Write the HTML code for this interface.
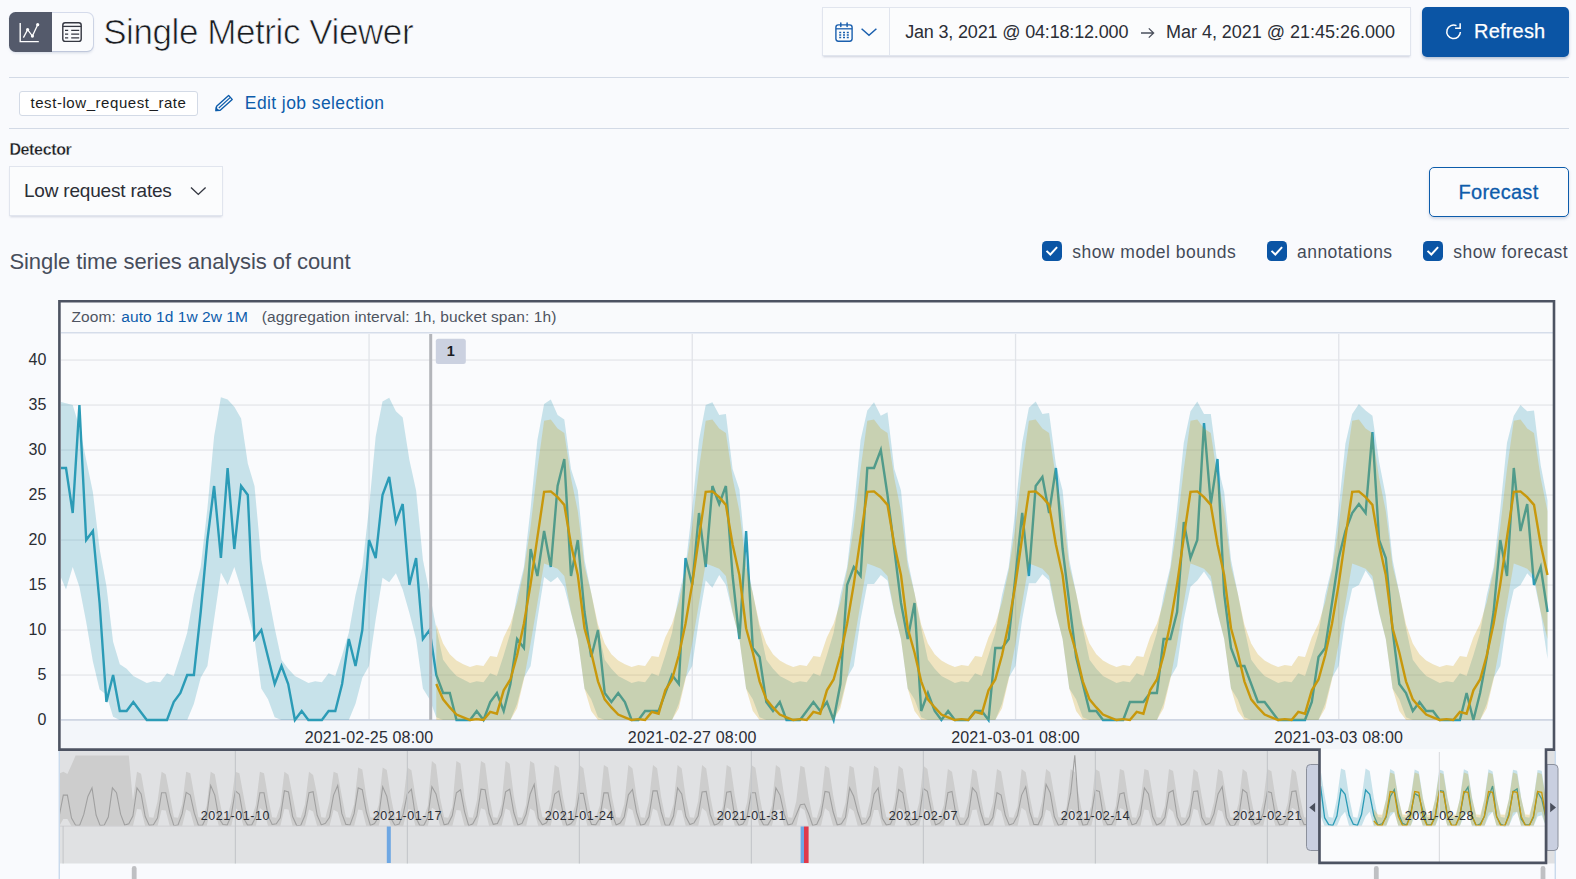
<!DOCTYPE html>
<html lang="en">
<head>
<meta charset="utf-8">
<title>Single Metric Viewer</title>
<style>
html,body{margin:0;padding:0;}
body{width:1576px;height:879px;overflow:hidden;background:#f9fafd;font-family:"Liberation Sans",Arial,sans-serif;color:#1a1c21;position:relative;}
.abs{position:absolute;white-space:nowrap;}
.btngrp{left:9.5px;top:12.6px;width:83px;height:38.8px;border-radius:6px;box-shadow:0 2px 3px rgba(120,135,170,.28),0 0 0 1px rgba(170,185,215,.45);background:#fafbfd;}
.btngrp .on{position:absolute;left:-0.6px;top:-0.6px;width:42.9px;height:40px;background:#545a6b;border-radius:6.5px 0 0 6.5px;}
h1{margin:0;font-weight:400;font-size:35px;line-height:40px;left:103.2px;top:12px;letter-spacing:-0.42px;color:#1a1c21;-webkit-text-stroke:0.7px #f9fafd;}
.datebox{left:821.6px;top:7px;width:589.8px;height:49.3px;background:#fbfcfd;border:1px solid #e1e5ee;box-sizing:border-box;box-shadow:0 2px 2px -1px rgba(150,160,185,.45);}
.datebox .sep{position:absolute;left:66px;top:0;width:1px;height:100%;background:#e1e5ee;}
.dt{font-size:18px;line-height:20px;top:22px;color:#2b2e36;}
.refresh{left:1422px;top:7px;width:147px;height:50px;border-radius:5px;background:#0b55a5;box-shadow:0 2px 3px rgba(40,70,120,.3);}
.refresh span{position:absolute;left:52px;top:12.3px;font-size:20px;line-height:24px;color:#fff;font-weight:400;letter-spacing:0.2px;-webkit-text-stroke:0.25px #fff;}
.hr{left:9px;width:1560px;height:1.3px;background:#d3dae6;}
.badge{left:19px;top:91px;width:179px;height:24.5px;box-sizing:border-box;border:1px solid #d3dae6;border-radius:3px;background:#fff;font-size:15px;line-height:22.5px;text-align:center;letter-spacing:0.56px;color:#1a1c21;}
.link{color:#0d5cab;}
.edit{left:244.8px;top:92px;font-size:17.5px;line-height:22px;letter-spacing:0.41px;}
.lbl{left:9.4px;top:140.2px;font-size:16px;line-height:20px;font-weight:700;letter-spacing:-0.36px;color:#1a1c21;-webkit-text-stroke:0.3px #f9fafd;}
.select{left:9px;top:166px;width:214px;height:49.5px;box-sizing:border-box;background:#fbfcfd;border:1px solid #e1e5ee;box-shadow:0 2px 2px -1px rgba(150,160,185,.4);}
.select span{position:absolute;left:14px;top:12.6px;font-size:19px;line-height:22px;letter-spacing:-0.2px;color:#2b2e36;}
.forecast{left:1429px;top:167px;width:140px;height:50px;box-sizing:border-box;border:1.3px solid #0d5cab;border-radius:5px;background:#fafbfd;box-shadow:0 2px 3px rgba(100,120,160,.25);}
.forecast span{position:absolute;left:28.5px;top:12px;font-size:20px;line-height:24px;letter-spacing:0.27px;-webkit-text-stroke:0.3px #0d5cab;}
h2{margin:0;font-weight:400;font-size:22px;line-height:28px;left:9.4px;top:247.5px;letter-spacing:-0.07px;color:#474d5b;}
.cb{width:19.6px;height:19.6px;top:241.3px;border-radius:4.5px;background:#0b55a5;}
.cbl{top:242px;font-size:17.5px;line-height:21px;color:#444a58;}
svg.chart{position:absolute;left:0;top:0;}
svg.chart text{font-family:"Liberation Sans",Arial,sans-serif;}
.ax{font-size:16px;fill:#2a2d34;letter-spacing:0.1px;}
.xl{letter-spacing:0.15px;}
.ann{font-size:14.5px;fill:#1a1c21;font-weight:700;}
.zt{font-size:15.5px;fill:#4e5461;letter-spacing:0.1px;}
.zl{fill:#0d5cab;letter-spacing:0.05px;}
.zi{letter-spacing:0.1px;}
.cl{font-size:12.5px;fill:#2a2d34;letter-spacing:0.52px;}
</style>
</head>
<body>
<!-- view switch -->
<div class="abs btngrp"><div class="on"></div>
<svg class="abs" style="left:-0.5px;top:-0.6px" width="84" height="40" viewBox="9 12 84 40">
 <path d="M20.2,23 V41.6 H38.8" fill="none" stroke="#fff" stroke-width="1.4"/>
 <path d="M23.4,37.6 L27.6,29.6 L32.4,36.1 L37.7,24.7" fill="none" stroke="#fff" stroke-width="1.3"/>
 <circle cx="27.6" cy="29.6" r="1.6" fill="#fff"/><circle cx="32.4" cy="36.1" r="1.6" fill="#fff"/><circle cx="37.7" cy="24.7" r="1.6" fill="#fff"/>
 <rect x="62.8" y="22.8" width="18.4" height="18.6" rx="2.4" fill="none" stroke="#343741" stroke-width="1.4"/>
 <path d="M62.8,26.4 H81.2" stroke="#343741" stroke-width="1.3"/>
 <path d="M65,30.4h3.2M71.2,30.4h8M65,34.1h3.2M71.2,34.1h8M65,37.8h3.2M71.2,37.8h8" stroke="#343741" stroke-width="1.3"/>
</svg></div>
<h1 class="abs">Single Metric Viewer</h1>

<!-- date picker -->
<div class="abs datebox"><div class="sep"></div></div>
<svg class="abs" style="left:830px;top:18px" width="52" height="28" viewBox="830 18 52 28">
 <rect x="835.9" y="24.9" width="16.2" height="16.3" rx="2.4" fill="none" stroke="#1a5fae" stroke-width="1.4"/>
 <path d="M835.9,28.8H852.1" stroke="#1a5fae" stroke-width="1.3"/>
 <path d="M840.8,23V26.6M847.1,23V26.6" stroke="#1a5fae" stroke-width="1.5" stroke-linecap="round"/>
 <path d="M839.2,32.5h2M843,32.5h2M846.8,32.5h2M839.2,35h2M843,35h2M846.8,35h2M839.2,37.5h2M843,37.5h2M846.8,37.5h2" stroke="#1a5fae" stroke-width="1.3"/>
 <path d="M861.6,28.8 L869,35.3 L876.4,28.8" fill="none" stroke="#1a5fae" stroke-width="1.5"/>
</svg>
<div class="abs dt" style="left:905.2px;letter-spacing:-0.17px">Jan 3, 2021 @ 04:18:12.000</div>
<svg class="abs" style="left:1139px;top:25px" width="18" height="16" viewBox="0 0 18 16"><path d="M2,8H14.5M9.8,3.4L14.6,8L9.8,12.6" fill="none" stroke="#4a4f5c" stroke-width="1.3"/></svg>
<div class="abs dt" style="left:1166px;letter-spacing:-0.02px">Mar 4, 2021 @ 21:45:26.000</div>
<div class="abs refresh">
 <svg class="abs" style="left:22.4px;top:14.6px" width="19.4" height="19.4" viewBox="0 0 18 18"><path d="M15.2,9.3A6.3,6.3 0 1 1 11.6,3.4" fill="none" stroke="#fff" stroke-width="1.4"/><path d="M10.3,5.9H15V1.2" fill="none" stroke="#fff" stroke-width="1.4"/></svg>
 <span>Refresh</span></div>

<div class="abs hr" style="top:76.6px"></div>
<div class="abs badge">test-low_request_rate</div>
<svg class="abs" style="left:213px;top:92px" width="22" height="22" viewBox="213 92 22 22">
 <path d="M216.6,106.2 L228.6,95.4 L232.2,99.4 L220.2,110.2 L216,110.6 Z" fill="none" stroke="#0d5cab" stroke-width="1.4" stroke-linejoin="round"/>
 <path d="M218.8,108 L230.4,97.4" stroke="#0d5cab" stroke-width="1.2"/>
 <path d="M215.6,107 L219.6,110.6 L215.4,111.2 Z" fill="#0d5cab"/>
</svg>
<div class="abs edit link">Edit job selection</div>
<div class="abs hr" style="top:127.6px"></div>

<div class="abs lbl">Detector</div>
<div class="abs select"><span>Low request rates</span>
 <svg class="abs" style="left:176.8px;top:16.4px" width="22" height="16" viewBox="0 0 22 16"><path d="M4,4.6 L11.3,11.4 L18.6,4.6" fill="none" stroke="#343741" stroke-width="1.4"/></svg>
</div>
<div class="abs forecast"><span class="link">Forecast</span></div>

<h2 class="abs">Single time series analysis of count</h2>
<div class="abs cb" style="left:1042px"><svg width="19.6" height="19.6" viewBox="0 0 20 20"><path d="M4.6,10.1 L8.5,13.8 L15.4,6.3" fill="none" stroke="#fff" stroke-width="2"/></svg></div>
<div class="abs cbl" style="left:1072.2px;letter-spacing:0.49px">show model bounds</div>
<div class="abs cb" style="left:1267px"><svg width="19.6" height="19.6" viewBox="0 0 20 20"><path d="M4.6,10.1 L8.5,13.8 L15.4,6.3" fill="none" stroke="#fff" stroke-width="2"/></svg></div>
<div class="abs cbl" style="left:1297px;letter-spacing:0.46px">annotations</div>
<div class="abs cb" style="left:1423px"><svg width="19.6" height="19.6" viewBox="0 0 20 20"><path d="M4.6,10.1 L8.5,13.8 L15.4,6.3" fill="none" stroke="#fff" stroke-width="2"/></svg></div>
<div class="abs cbl" style="left:1453.2px;letter-spacing:0.54px">show forecast</div>

<svg class="chart" width="1576" height="879" viewBox="0 0 1576 879">
<defs><clipPath id="cp"><rect x="61" y="334" width="1492" height="390"/></clipPath><clipPath id="cc"><rect x="60" y="752" width="1495" height="74.5"/></clipPath><clipPath id="cb"><rect x="1321" y="752" width="224.5" height="74.5"/></clipPath></defs>
<rect x="59.5" y="301.5" width="1494.5" height="448" fill="#fafbfd"/>
<rect x="61" y="303" width="1492" height="30" fill="#f9fafc"/>
<rect x="61" y="720" width="1492" height="29" fill="#f3f6fa"/>
<rect x="61" y="332.2" width="1492" height="1.2" fill="#cdd6e5"/>
<rect x="61" y="719.4" width="1492" height="1.3" fill="#e4e6ea"/>
<rect x="61" y="674.4" width="1492" height="1.3" fill="#e4e6ea"/>
<rect x="61" y="629.4" width="1492" height="1.3" fill="#e4e6ea"/>
<rect x="61" y="584.4" width="1492" height="1.3" fill="#e4e6ea"/>
<rect x="61" y="539.4" width="1492" height="1.3" fill="#e4e6ea"/>
<rect x="61" y="494.4" width="1492" height="1.3" fill="#e4e6ea"/>
<rect x="61" y="449.4" width="1492" height="1.3" fill="#e4e6ea"/>
<rect x="61" y="404.4" width="1492" height="1.3" fill="#e4e6ea"/>
<rect x="61" y="359.4" width="1492" height="1.3" fill="#e4e6ea"/>
<rect x="368.4" y="334" width="1.3" height="386" fill="#e1e4e9"/>
<rect x="691.6" y="334" width="1.3" height="386" fill="#e1e4e9"/>
<rect x="1014.9" y="334" width="1.3" height="386" fill="#e1e4e9"/>
<rect x="1338.1" y="334" width="1.3" height="386" fill="#e1e4e9"/>
<rect x="61" y="719.1" width="1492" height="1.5" fill="#cbd3e1"/>
<text x="46.5" y="724.9" text-anchor="end" class="ax">0</text>
<text x="46.5" y="679.9" text-anchor="end" class="ax">5</text>
<text x="46.5" y="634.9" text-anchor="end" class="ax">10</text>
<text x="46.5" y="589.9" text-anchor="end" class="ax">15</text>
<text x="46.5" y="544.9" text-anchor="end" class="ax">20</text>
<text x="46.5" y="499.9" text-anchor="end" class="ax">25</text>
<text x="46.5" y="454.9" text-anchor="end" class="ax">30</text>
<text x="46.5" y="409.9" text-anchor="end" class="ax">35</text>
<text x="46.5" y="364.9" text-anchor="end" class="ax">40</text>
<text x="369" y="742.9" text-anchor="middle" class="ax xl">2021-02-25 08:00</text>
<text x="692.2" y="742.9" text-anchor="middle" class="ax xl">2021-02-27 08:00</text>
<text x="1015.5" y="742.9" text-anchor="middle" class="ax xl">2021-03-01 08:00</text>
<text x="1338.7" y="742.9" text-anchor="middle" class="ax xl">2021-03-03 08:00</text>
<g clip-path="url(#cp)">
<path d="M59.2,401.4L66.0,403.2L72.7,405.0L79.4,427.1L86.2,459.9L92.9,492.3L99.6,549.0L106.4,585.9L113.1,641.7L119.8,664.2L126.6,668.7L133.3,675.9L140.0,679.5L146.8,683.1L153.5,681.3L160.2,682.2L167.0,673.2L173.7,675.9L180.4,655.2L187.2,632.7L193.9,594.9L200.7,567.0L207.4,508.5L214.1,436.5L220.9,397.3L227.6,399.6L234.3,406.8L241.1,418.5L247.8,463.5L254.5,486.0L261.3,559.8L268.0,593.1L274.7,628.2L281.5,659.7L288.2,668.7L294.9,675.9L301.7,679.5L308.4,683.1L315.1,681.3L321.9,682.2L328.6,673.2L335.3,675.9L342.1,655.2L348.8,632.7L355.5,594.9L362.3,567.0L369.0,508.5L375.7,436.5L382.5,401.4L389.2,397.8L395.9,411.3L402.7,417.6L409.4,459.9L416.1,490.5L422.9,559.8L429.6,593.1L436.3,628.2L443.1,659.7L449.8,668.7L456.5,675.9L463.3,679.5L470.0,683.1L476.7,681.3L483.5,682.2L490.2,673.2L496.9,675.9L503.7,655.2L510.4,632.7L517.1,594.9L523.9,567.0L530.6,508.5L537.4,440.1L544.1,404.1L550.8,399.6L557.6,414.9L564.3,419.4L571.0,468.9L577.8,490.5L584.5,559.8L591.2,593.1L598.0,628.2L604.7,659.7L611.4,668.7L618.2,675.9L624.9,679.5L631.6,683.1L638.4,681.3L645.1,682.2L651.8,673.2L658.6,675.9L665.3,655.2L672.0,632.7L678.8,594.9L685.5,567.0L692.2,508.5L699.0,440.1L705.7,405.0L712.4,402.3L719.2,414.9L725.9,414.0L732.6,468.9L739.4,489.6L746.1,559.8L752.8,593.1L759.6,628.2L766.3,659.7L773.0,668.7L779.8,675.9L786.5,679.5L793.2,683.1L800.0,681.3L806.7,682.2L813.4,673.2L820.2,675.9L826.9,655.2L833.6,632.7L840.4,594.9L847.1,567.0L853.8,508.5L860.6,440.1L867.3,410.4L874.0,402.3L880.8,415.8L887.5,412.2L894.3,468.9L901.0,490.5L907.7,559.8L914.5,593.1L921.2,628.2L927.9,659.7L934.7,668.7L941.4,675.9L948.1,679.5L954.9,683.1L961.6,681.3L968.3,682.2L975.1,673.2L981.8,675.9L988.5,655.2L995.3,632.7L1002.0,594.9L1008.7,567.0L1015.5,508.5L1022.2,442.8L1028.9,407.7L1035.7,401.4L1042.4,414.0L1049.1,413.1L1055.9,464.4L1062.6,490.5L1069.3,559.8L1076.1,593.1L1082.8,628.2L1089.5,659.7L1096.3,668.7L1103.0,675.9L1109.7,679.5L1116.5,683.1L1123.2,681.3L1129.9,682.2L1136.7,673.2L1143.4,675.9L1150.1,655.2L1156.9,632.7L1163.6,594.9L1170.3,567.0L1177.1,508.5L1183.8,442.8L1190.5,411.3L1197.3,401.4L1204.0,414.0L1210.8,414.0L1217.5,464.4L1224.2,492.3L1231.0,559.8L1237.7,593.1L1244.4,628.2L1251.2,659.7L1257.9,668.7L1264.6,675.9L1271.4,679.5L1278.1,683.1L1284.8,681.3L1291.6,682.2L1298.3,673.2L1305.0,675.9L1311.8,655.2L1318.5,632.7L1325.2,594.9L1332.0,567.0L1338.7,508.5L1345.4,443.7L1352.2,414.0L1358.9,404.1L1365.6,410.4L1372.4,415.8L1379.1,461.7L1385.8,495.9L1392.6,559.8L1399.3,593.1L1406.0,628.2L1412.8,659.7L1419.5,668.7L1426.2,675.9L1433.0,679.5L1439.7,683.1L1446.4,681.3L1453.2,682.2L1459.9,673.2L1466.6,675.9L1473.4,655.2L1480.1,632.7L1486.8,594.9L1493.6,567.0L1500.3,508.5L1507.0,442.8L1513.8,415.8L1520.5,405.0L1527.2,411.3L1534.0,410.4L1540.7,465.3L1547.5,500.4L1547.5,658.8L1540.7,612.9L1534.0,580.5L1527.2,573.3L1520.5,585.0L1513.8,589.5L1507.0,619.2L1500.3,666.0L1493.6,677.7L1486.8,703.8L1480.1,720.0L1473.4,720.0L1466.6,720.0L1459.9,720.0L1453.2,720.0L1446.4,720.0L1439.7,720.0L1433.0,720.0L1426.2,720.0L1419.5,720.0L1412.8,720.0L1406.0,717.3L1399.3,699.3L1392.6,688.5L1385.8,639.0L1379.1,612.9L1372.4,580.5L1365.6,570.6L1358.9,585.0L1352.2,588.6L1345.4,619.2L1338.7,666.0L1332.0,677.7L1325.2,703.8L1318.5,720.0L1311.8,720.0L1305.0,720.0L1298.3,720.0L1291.6,720.0L1284.8,720.0L1278.1,720.0L1271.4,720.0L1264.6,720.0L1257.9,720.0L1251.2,720.0L1244.4,717.3L1237.7,699.3L1231.0,688.5L1224.2,639.0L1217.5,612.9L1210.8,581.4L1204.0,571.5L1197.3,580.5L1190.5,586.8L1183.8,619.2L1177.1,666.0L1170.3,677.7L1163.6,703.8L1156.9,720.0L1150.1,720.0L1143.4,720.0L1136.7,720.0L1129.9,720.0L1123.2,720.0L1116.5,720.0L1109.7,720.0L1103.0,720.0L1096.3,720.0L1089.5,720.0L1082.8,717.3L1076.1,699.3L1069.3,688.5L1062.6,639.0L1055.9,612.9L1049.1,580.5L1042.4,574.2L1035.7,583.2L1028.9,583.2L1022.2,619.2L1015.5,666.0L1008.7,677.7L1002.0,703.8L995.3,720.0L988.5,720.0L981.8,720.0L975.1,720.0L968.3,720.0L961.6,720.0L954.9,720.0L948.1,720.0L941.4,720.0L934.7,720.0L927.9,720.0L921.2,717.3L914.5,699.3L907.7,688.5L901.0,639.0L894.3,612.9L887.5,580.5L880.8,575.1L874.0,584.1L867.3,584.1L860.6,619.2L853.8,666.0L847.1,677.7L840.4,703.8L833.6,720.0L826.9,720.0L820.2,720.0L813.4,720.0L806.7,720.0L800.0,720.0L793.2,720.0L786.5,720.0L779.8,720.0L773.0,720.0L766.3,720.0L759.6,717.3L752.8,699.3L746.1,688.5L739.4,639.0L732.6,612.9L725.9,585.0L719.2,575.1L712.4,587.7L705.7,580.5L699.0,619.2L692.2,666.0L685.5,677.7L678.8,703.8L672.0,720.0L665.3,720.0L658.6,720.0L651.8,720.0L645.1,720.0L638.4,720.0L631.6,720.0L624.9,720.0L618.2,720.0L611.4,720.0L604.7,720.0L598.0,717.3L591.2,699.3L584.5,688.5L577.8,639.0L571.0,612.9L564.3,586.8L557.6,576.9L550.8,582.3L544.1,576.9L537.4,619.2L530.6,666.0L523.9,677.7L517.1,703.8L510.4,720.0L503.7,720.0L496.9,720.0L490.2,720.0L483.5,720.0L476.7,720.0L470.0,720.0L463.3,720.0L456.5,720.0L449.8,720.0L443.1,720.0L436.3,717.3L429.6,699.3L422.9,688.5L416.1,639.0L409.4,612.9L402.7,589.5L395.9,573.3L389.2,582.3L382.5,577.8L375.7,619.2L369.0,666.0L362.3,677.7L355.5,703.8L348.8,720.0L342.1,720.0L335.3,720.0L328.6,720.0L321.9,720.0L315.1,720.0L308.4,720.0L301.7,720.0L294.9,720.0L288.2,720.0L281.5,720.0L274.7,717.3L268.0,699.3L261.3,688.5L254.5,639.0L247.8,612.9L241.1,588.6L234.3,567.0L227.6,585.0L220.9,572.4L214.1,619.2L207.4,666.0L200.7,677.7L193.9,703.8L187.2,720.0L180.4,720.0L173.7,720.0L167.0,720.0L160.2,720.0L153.5,720.0L146.8,720.0L140.0,720.0L133.3,720.0L126.6,720.0L119.8,720.0L113.1,716.8L106.4,694.8L99.6,689.4L92.9,661.5L86.2,621.9L79.4,586.8L72.7,567.0L66.0,589.5L59.2,573.3Z" fill="#2e97b5" fill-opacity="0.25"/>
<path d="M59.2,468.0L66.0,468.0L72.7,513.0L79.4,405.0L86.2,540.0L92.9,531.0L99.6,603.0L106.4,702.0L113.1,675.0L119.8,711.0L126.6,711.0L133.3,702.0L140.0,711.0L146.8,720.0L153.5,720.0L160.2,720.0L167.0,720.0L173.7,702.0L180.4,693.0L187.2,675.0L193.9,675.0L200.7,612.0L207.4,540.0L214.1,486.0L220.9,558.0L227.6,468.0L234.3,549.0L241.1,486.0L247.8,495.0L254.5,639.0L261.3,630.0L268.0,657.0L274.7,684.0L281.5,666.0L288.2,684.0L294.9,720.0L301.7,711.0L308.4,720.0L315.1,720.0L321.9,720.0L328.6,711.0L335.3,711.0L342.1,684.0L348.8,639.0L355.5,666.0L362.3,630.0L369.0,540.0L375.7,558.0L382.5,495.0L389.2,477.0L395.9,522.0L402.7,504.0L409.4,585.0L416.1,558.0L422.9,639.0L429.6,630.0L436.3,675.0L443.1,693.0L449.8,693.0L456.5,720.0L463.3,720.0L470.0,720.0L476.7,711.0L483.5,720.0L490.2,702.0L496.9,693.0L503.7,711.0L510.4,684.0L517.1,639.0L523.9,648.0L530.6,549.0L537.4,576.0L544.1,531.0L550.8,567.0L557.6,486.0L564.3,459.0L571.0,576.0L577.8,540.0L584.5,612.0L591.2,657.0L598.0,630.0L604.7,693.0L611.4,702.0L618.2,693.0L624.9,702.0L631.6,720.0L638.4,720.0L645.1,711.0L651.8,711.0L658.6,711.0L665.3,693.0L672.0,675.0L678.8,684.0L685.5,558.0L692.2,585.0L699.0,513.0L705.7,567.0L712.4,486.0L719.2,504.0L725.9,486.0L732.6,576.0L739.4,639.0L746.1,531.0L752.8,648.0L759.6,657.0L766.3,702.0L773.0,711.0L779.8,702.0L786.5,720.0L793.2,720.0L800.0,720.0L806.7,711.0L813.4,702.0L820.2,711.0L826.9,702.0L833.6,720.0L840.4,684.0L847.1,585.0L853.8,567.0L860.6,576.0L867.3,468.0L874.0,468.0L880.8,450.0L887.5,495.0L894.3,549.0L901.0,603.0L907.7,639.0L914.5,603.0L921.2,711.0L927.9,693.0L934.7,711.0L941.4,720.0L948.1,711.0L954.9,720.0L961.6,720.0L968.3,720.0L975.1,711.0L981.8,711.0L988.5,720.0L995.3,648.0L1002.0,648.0L1008.7,639.0L1015.5,576.0L1022.2,513.0L1028.9,576.0L1035.7,486.0L1042.4,477.0L1049.1,513.0L1055.9,468.0L1062.6,549.0L1069.3,603.0L1076.1,657.0L1082.8,684.0L1089.5,711.0L1096.3,711.0L1103.0,720.0L1109.7,720.0L1116.5,720.0L1123.2,720.0L1129.9,702.0L1136.7,702.0L1143.4,702.0L1150.1,693.0L1156.9,693.0L1163.6,639.0L1170.3,639.0L1177.1,612.0L1183.8,522.0L1190.5,558.0L1197.3,540.0L1204.0,423.0L1210.8,504.0L1217.5,459.0L1224.2,594.0L1231.0,648.0L1237.7,666.0L1244.4,666.0L1251.2,684.0L1257.9,702.0L1264.6,702.0L1271.4,711.0L1278.1,720.0L1284.8,720.0L1291.6,720.0L1298.3,720.0L1305.0,720.0L1311.8,702.0L1318.5,657.0L1325.2,648.0L1332.0,603.0L1338.7,558.0L1345.4,531.0L1352.2,513.0L1358.9,504.0L1365.6,513.0L1372.4,432.0L1379.1,540.0L1385.8,558.0L1392.6,630.0L1399.3,684.0L1406.0,693.0L1412.8,711.0L1419.5,702.0L1426.2,711.0L1433.0,711.0L1439.7,720.0L1446.4,720.0L1453.2,720.0L1459.9,720.0L1466.6,693.0L1473.4,720.0L1480.1,693.0L1486.8,657.0L1493.6,612.0L1500.3,540.0L1507.0,576.0L1513.8,468.0L1520.5,531.0L1527.2,504.0L1534.0,585.0L1540.7,567.0L1547.5,612.0" fill="none" stroke="#2b9bb6" stroke-width="2.4" stroke-linejoin="miter"/>
<path d="M436.3,624.6L443.1,643.5L449.8,654.3L456.5,660.6L463.3,664.2L470.0,666.9L476.7,665.1L483.5,666.0L490.2,656.1L496.9,657.0L503.7,637.2L510.4,623.7L517.1,602.1L523.9,570.6L530.6,526.5L537.4,468.9L544.1,420.8L550.8,419.4L557.6,428.4L564.3,432.9L571.0,477.9L577.8,511.2L584.5,566.1L591.2,593.1L598.0,624.6L604.7,643.5L611.4,654.3L618.2,660.6L624.9,664.2L631.6,666.9L638.4,665.1L645.1,666.0L651.8,656.1L658.6,657.0L665.3,637.2L672.0,623.7L678.8,602.1L685.5,570.6L692.2,526.5L699.0,468.9L705.7,420.8L712.4,419.4L719.2,428.4L725.9,432.9L732.6,477.9L739.4,511.2L746.1,566.1L752.8,593.1L759.6,624.6L766.3,643.5L773.0,654.3L779.8,660.6L786.5,664.2L793.2,666.9L800.0,665.1L806.7,666.0L813.4,656.1L820.2,657.0L826.9,637.2L833.6,623.7L840.4,602.1L847.1,570.6L853.8,526.5L860.6,468.9L867.3,420.8L874.0,419.4L880.8,428.4L887.5,432.9L894.3,477.9L901.0,511.2L907.7,566.1L914.5,593.1L921.2,624.6L927.9,643.5L934.7,654.3L941.4,660.6L948.1,664.2L954.9,666.9L961.6,665.1L968.3,666.0L975.1,656.1L981.8,657.0L988.5,637.2L995.3,623.7L1002.0,602.1L1008.7,570.6L1015.5,526.5L1022.2,468.9L1028.9,420.8L1035.7,419.4L1042.4,428.4L1049.1,432.9L1055.9,477.9L1062.6,511.2L1069.3,566.1L1076.1,593.1L1082.8,624.6L1089.5,643.5L1096.3,654.3L1103.0,660.6L1109.7,664.2L1116.5,666.9L1123.2,665.1L1129.9,666.0L1136.7,656.1L1143.4,657.0L1150.1,637.2L1156.9,623.7L1163.6,602.1L1170.3,570.6L1177.1,526.5L1183.8,468.9L1190.5,420.8L1197.3,419.4L1204.0,428.4L1210.8,432.9L1217.5,477.9L1224.2,511.2L1231.0,566.1L1237.7,593.1L1244.4,624.6L1251.2,643.5L1257.9,654.3L1264.6,660.6L1271.4,664.2L1278.1,666.9L1284.8,665.1L1291.6,666.0L1298.3,656.1L1305.0,657.0L1311.8,637.2L1318.5,623.7L1325.2,602.1L1332.0,570.6L1338.7,526.5L1345.4,468.9L1352.2,420.8L1358.9,419.4L1365.6,428.4L1372.4,432.9L1379.1,477.9L1385.8,511.2L1392.6,566.1L1399.3,593.1L1406.0,624.6L1412.8,643.5L1419.5,654.3L1426.2,660.6L1433.0,664.2L1439.7,666.9L1446.4,665.1L1453.2,666.0L1459.9,656.1L1466.6,657.0L1473.4,637.2L1480.1,623.7L1486.8,602.1L1493.6,570.6L1500.3,526.5L1507.0,468.9L1513.8,420.8L1520.5,419.4L1527.2,428.4L1534.0,432.9L1540.7,477.9L1547.5,511.2L1547.5,639.0L1540.7,612.0L1534.0,576.0L1527.2,568.8L1520.5,566.1L1513.8,563.4L1507.0,603.0L1500.3,643.5L1493.6,679.5L1486.8,708.3L1480.1,720.0L1473.4,720.0L1466.6,720.0L1459.9,720.0L1453.2,720.0L1446.4,720.0L1439.7,720.0L1433.0,720.0L1426.2,720.0L1419.5,720.0L1412.8,720.0L1406.0,720.0L1399.3,711.0L1392.6,688.5L1385.8,639.0L1379.1,612.0L1372.4,576.0L1365.6,568.8L1358.9,566.1L1352.2,563.4L1345.4,603.0L1338.7,643.5L1332.0,679.5L1325.2,708.3L1318.5,720.0L1311.8,720.0L1305.0,720.0L1298.3,720.0L1291.6,720.0L1284.8,720.0L1278.1,720.0L1271.4,720.0L1264.6,720.0L1257.9,720.0L1251.2,720.0L1244.4,720.0L1237.7,711.0L1231.0,688.5L1224.2,639.0L1217.5,612.0L1210.8,576.0L1204.0,568.8L1197.3,566.1L1190.5,563.4L1183.8,603.0L1177.1,643.5L1170.3,679.5L1163.6,708.3L1156.9,720.0L1150.1,720.0L1143.4,720.0L1136.7,720.0L1129.9,720.0L1123.2,720.0L1116.5,720.0L1109.7,720.0L1103.0,720.0L1096.3,720.0L1089.5,720.0L1082.8,720.0L1076.1,711.0L1069.3,688.5L1062.6,639.0L1055.9,612.0L1049.1,576.0L1042.4,568.8L1035.7,566.1L1028.9,563.4L1022.2,603.0L1015.5,643.5L1008.7,679.5L1002.0,708.3L995.3,720.0L988.5,720.0L981.8,720.0L975.1,720.0L968.3,720.0L961.6,720.0L954.9,720.0L948.1,720.0L941.4,720.0L934.7,720.0L927.9,720.0L921.2,720.0L914.5,711.0L907.7,688.5L901.0,639.0L894.3,612.0L887.5,576.0L880.8,568.8L874.0,566.1L867.3,563.4L860.6,603.0L853.8,643.5L847.1,679.5L840.4,708.3L833.6,720.0L826.9,720.0L820.2,720.0L813.4,720.0L806.7,720.0L800.0,720.0L793.2,720.0L786.5,720.0L779.8,720.0L773.0,720.0L766.3,720.0L759.6,720.0L752.8,711.0L746.1,688.5L739.4,639.0L732.6,612.0L725.9,576.0L719.2,568.8L712.4,566.1L705.7,563.4L699.0,603.0L692.2,643.5L685.5,679.5L678.8,708.3L672.0,720.0L665.3,720.0L658.6,720.0L651.8,720.0L645.1,720.0L638.4,720.0L631.6,720.0L624.9,720.0L618.2,720.0L611.4,720.0L604.7,720.0L598.0,720.0L591.2,711.0L584.5,688.5L577.8,639.0L571.0,612.0L564.3,576.0L557.6,568.8L550.8,566.1L544.1,563.4L537.4,603.0L530.6,643.5L523.9,679.5L517.1,708.3L510.4,720.0L503.7,720.0L496.9,720.0L490.2,720.0L483.5,720.0L476.7,720.0L470.0,720.0L463.3,720.0L456.5,720.0L449.8,720.0L443.1,720.0L436.3,720.0Z" fill="#cc9900" fill-opacity="0.24"/>
<path d="M436.3,684.0L443.1,699.3L449.8,707.4L456.5,714.6L463.3,717.3L470.0,720.0L476.7,719.1L483.5,720.0L490.2,711.9L496.9,713.7L503.7,690.3L510.4,679.5L517.1,655.2L523.9,623.7L530.6,584.1L537.4,537.3L544.1,491.9L550.8,491.4L557.6,497.2L564.3,504.9L571.0,544.5L577.8,575.1L584.5,628.2L591.2,652.5L598.0,681.3L604.7,699.3L611.4,707.4L618.2,714.6L624.9,717.3L631.6,720.0L638.4,719.1L645.1,720.0L651.8,711.9L658.6,713.7L665.3,690.3L672.0,679.5L678.8,655.2L685.5,623.7L692.2,584.1L699.0,537.3L705.7,491.9L712.4,491.4L719.2,497.2L725.9,504.9L732.6,544.5L739.4,575.1L746.1,628.2L752.8,652.5L759.6,681.3L766.3,699.3L773.0,707.4L779.8,714.6L786.5,717.3L793.2,720.0L800.0,719.1L806.7,720.0L813.4,711.9L820.2,713.7L826.9,690.3L833.6,679.5L840.4,655.2L847.1,623.7L853.8,584.1L860.6,537.3L867.3,491.9L874.0,491.4L880.8,497.2L887.5,504.9L894.3,544.5L901.0,575.1L907.7,628.2L914.5,652.5L921.2,681.3L927.9,699.3L934.7,707.4L941.4,714.6L948.1,717.3L954.9,720.0L961.6,719.1L968.3,720.0L975.1,711.9L981.8,713.7L988.5,690.3L995.3,679.5L1002.0,655.2L1008.7,623.7L1015.5,584.1L1022.2,537.3L1028.9,491.9L1035.7,491.4L1042.4,497.2L1049.1,504.9L1055.9,544.5L1062.6,575.1L1069.3,628.2L1076.1,652.5L1082.8,681.3L1089.5,699.3L1096.3,707.4L1103.0,714.6L1109.7,717.3L1116.5,720.0L1123.2,719.1L1129.9,720.0L1136.7,711.9L1143.4,713.7L1150.1,690.3L1156.9,679.5L1163.6,655.2L1170.3,623.7L1177.1,584.1L1183.8,537.3L1190.5,491.9L1197.3,491.4L1204.0,497.2L1210.8,504.9L1217.5,544.5L1224.2,575.1L1231.0,628.2L1237.7,652.5L1244.4,681.3L1251.2,699.3L1257.9,707.4L1264.6,714.6L1271.4,717.3L1278.1,720.0L1284.8,719.1L1291.6,720.0L1298.3,711.9L1305.0,713.7L1311.8,690.3L1318.5,679.5L1325.2,655.2L1332.0,623.7L1338.7,584.1L1345.4,537.3L1352.2,491.9L1358.9,491.4L1365.6,497.2L1372.4,504.9L1379.1,544.5L1385.8,575.1L1392.6,628.2L1399.3,652.5L1406.0,681.3L1412.8,699.3L1419.5,707.4L1426.2,714.6L1433.0,717.3L1439.7,720.0L1446.4,719.1L1453.2,720.0L1459.9,711.9L1466.6,713.7L1473.4,690.3L1480.1,679.5L1486.8,655.2L1493.6,623.7L1500.3,584.1L1507.0,537.3L1513.8,491.9L1520.5,491.4L1527.2,497.2L1534.0,504.9L1540.7,544.5L1547.5,575.1" fill="none" stroke="#c8980c" stroke-width="2.4" stroke-linejoin="miter"/>
</g>
<rect x="429.2" y="334" width="3" height="386" fill="#b3b5ba"/>
<rect x="435.8" y="338.8" width="30" height="25.2" rx="2.5" fill="#cbd1e0"/>
<text x="450.8" y="356.4" text-anchor="middle" class="ann">1</text>
<text x="71.5" y="322.4" class="zt">Zoom:</text>
<text x="121.3" y="322.4" class="zt zl">auto 1d 1w 2w 1M</text>
<text x="261.8" y="322.4" class="zt zi">(aggregation interval: 1h, bucket span: 1h)</text>
<rect x="60" y="751" width="1495" height="112.5" fill="#e0e1e3"/>
<g clip-path="url(#cc)">
<path d="M59.2,773.6L63.3,771.8L67.4,773.9L71.5,765.0L75.6,755.4L79.7,755.4L83.8,755.4L87.9,755.4L92.0,755.4L96.1,755.4L100.2,755.4L104.3,755.4L108.3,755.4L112.4,755.4L116.5,755.4L120.6,755.4L124.7,755.4L128.8,755.4L132.9,800.5L137.0,771.8L141.1,773.7L145.2,796.7L149.3,817.2L153.4,817.8L157.5,801.4L161.6,771.8L165.7,774.3L169.8,794.9L173.9,817.2L178.0,817.8L182.1,804.3L186.2,771.8L190.3,773.3L194.3,795.6L198.4,817.2L202.5,817.8L206.6,806.1L210.7,771.8L214.8,774.3L218.9,797.4L223.0,817.2L227.1,817.8L231.2,802.2L235.3,771.8L239.4,773.3L243.5,795.4L247.6,817.2L251.7,817.8L255.8,804.9L259.9,771.8L264.0,773.3L268.1,797.3L272.2,817.2L276.3,817.8L280.3,805.2L284.4,771.8L288.5,774.7L292.6,796.1L296.7,817.2L300.8,817.8L304.9,804.5L309.0,771.8L313.1,774.9L317.2,795.1L321.3,817.2L325.4,817.8L329.5,801.6L333.6,771.8L337.7,773.5L341.8,796.1L345.9,817.2L350.0,817.8L354.1,804.2L358.2,767.4L362.3,769.5L366.3,796.1L370.4,817.2L374.5,817.8L378.6,805.0L382.7,767.4L386.8,769.9L390.9,797.1L395.0,817.2L399.1,817.8L403.2,801.0L407.3,767.4L411.4,770.3L415.5,796.2L419.6,817.2L423.7,817.8L427.8,806.0L431.9,761.0L436.0,764.6L440.1,797.9L444.2,817.2L448.2,817.8L452.3,806.8L456.4,761.0L460.5,763.5L464.6,797.0L468.7,817.2L472.8,817.8L476.9,800.4L481.0,761.0L485.1,763.4L489.2,795.1L493.3,817.2L497.4,817.8L501.5,804.6L505.6,761.0L509.7,763.8L513.8,796.0L517.9,817.2L522.0,817.8L526.1,804.4L530.2,761.0L534.2,763.5L538.3,796.8L542.4,817.2L546.5,817.8L550.6,802.1L554.7,765.0L558.8,767.6L562.9,796.5L567.0,817.2L571.1,817.8L575.2,805.4L579.3,765.0L583.4,768.2L587.5,795.8L591.6,817.2L595.7,817.8L599.8,805.6L603.9,765.0L608.0,767.5L612.1,797.4L616.2,817.2L620.2,817.8L624.3,804.1L628.4,765.0L632.5,768.5L636.6,796.4L640.7,817.2L644.8,817.8L648.9,801.5L653.0,765.0L657.1,768.2L661.2,797.3L665.3,817.2L669.4,817.8L673.5,804.2L677.6,765.0L681.7,768.6L685.8,797.9L689.9,817.2L694.0,817.8L698.1,801.3L702.1,765.0L706.2,768.5L710.3,796.6L714.4,817.2L718.5,817.8L722.6,806.7L726.7,765.0L730.8,767.5L734.9,795.9L739.0,817.2L743.1,817.8L747.2,801.7L751.3,765.0L755.4,767.8L759.5,795.7L763.6,817.2L767.7,817.8L771.8,805.7L775.9,765.0L780.0,768.0L784.1,795.5L788.1,817.2L792.2,817.8L796.3,801.0L800.4,765.7L804.5,767.6L808.6,796.8L812.7,817.2L816.8,817.8L820.9,803.2L825.0,765.7L829.1,768.0L833.2,795.4L837.3,817.2L841.4,817.8L845.5,802.7L849.6,765.7L853.7,767.8L857.8,797.0L861.9,817.2L866.0,817.8L870.1,801.0L874.1,765.7L878.2,768.4L882.3,797.9L886.4,817.2L890.5,817.8L894.6,801.7L898.7,765.7L902.8,769.1L906.9,796.4L911.0,817.2L915.1,817.8L919.2,802.2L923.3,765.7L927.4,768.9L931.5,796.3L935.6,817.2L939.7,817.8L943.8,805.0L947.9,768.9L952.0,771.7L956.0,795.3L960.1,817.2L964.2,817.8L968.3,801.1L972.4,768.9L976.5,771.4L980.6,796.4L984.7,817.2L988.8,817.8L992.9,803.0L997.0,768.9L1001.1,771.5L1005.2,795.8L1009.3,817.2L1013.4,817.8L1017.5,806.5L1021.6,768.9L1025.7,772.2L1029.8,796.6L1033.9,817.2L1038.0,817.8L1042.0,801.6L1046.1,768.9L1050.2,772.2L1054.3,795.5L1058.4,817.2L1062.5,817.8L1066.6,806.7L1070.7,768.9L1074.8,772.2L1078.9,795.7L1083.0,817.2L1087.1,817.8L1091.2,806.1L1095.3,768.9L1099.4,771.6L1103.5,796.3L1107.6,817.2L1111.7,817.8L1115.8,805.9L1119.9,768.9L1124.0,770.8L1128.0,797.3L1132.1,817.2L1136.2,817.8L1140.3,802.1L1144.4,768.9L1148.5,770.5L1152.6,795.2L1156.7,817.2L1160.8,817.8L1164.9,806.0L1169.0,768.9L1173.1,770.9L1177.2,797.6L1181.3,817.2L1185.4,817.8L1189.5,804.3L1193.6,768.9L1197.7,772.2L1201.8,796.4L1205.9,817.2L1209.9,817.8L1214.0,802.0L1218.1,768.9L1222.2,771.4L1226.3,796.4L1230.4,817.2L1234.5,817.8L1238.6,803.2L1242.7,768.9L1246.8,772.2L1250.9,797.8L1255.0,817.2L1259.1,817.8L1263.2,800.8L1267.3,768.9L1271.4,771.3L1275.5,798.0L1279.6,817.2L1283.7,817.8L1287.8,802.4L1291.9,768.9L1295.9,772.1L1300.0,796.4L1304.1,817.2L1308.2,817.8L1312.3,806.8L1316.4,768.9L1320.5,771.3L1324.6,796.4L1328.7,817.2L1332.8,817.8L1336.9,800.6L1341.0,768.9L1345.1,771.6L1349.2,795.1L1353.3,817.2L1357.4,817.8L1361.5,801.2L1365.6,768.9L1369.7,771.8L1373.8,796.5L1377.9,817.2L1381.9,817.8L1386.0,806.8L1390.1,768.9L1394.2,771.8L1398.3,795.9L1402.4,817.2L1406.5,817.8L1410.6,803.2L1414.7,768.9L1418.8,770.5L1422.9,798.0L1427.0,817.2L1431.1,817.8L1435.2,802.9L1439.3,768.9L1443.4,772.2L1447.5,797.2L1451.6,817.2L1455.7,817.8L1459.8,801.0L1463.9,768.9L1467.9,770.9L1472.0,797.8L1476.1,817.2L1480.2,817.8L1484.3,803.0L1488.4,768.9L1492.5,771.5L1496.6,796.1L1500.7,817.2L1504.8,817.8L1508.9,806.5L1513.0,768.9L1517.1,771.2L1521.2,796.2L1525.3,817.2L1529.4,817.8L1533.5,805.1L1537.6,768.9L1541.7,771.0L1545.8,796.8L1549.8,817.2L1553.9,817.8L1558.0,801.1L1558.0,826.2L1553.9,826.2L1549.8,826.2L1545.8,826.2L1541.7,811.9L1537.6,808.2L1533.5,826.2L1529.4,826.2L1525.3,826.2L1521.2,826.2L1517.1,811.3L1513.0,808.3L1508.9,826.2L1504.8,826.2L1500.7,826.2L1496.6,826.2L1492.5,810.9L1488.4,807.7L1484.3,826.2L1480.2,826.2L1476.1,826.2L1472.0,826.2L1467.9,811.9L1463.9,808.1L1459.8,826.2L1455.7,826.2L1451.6,826.2L1447.5,826.2L1443.4,810.7L1439.3,808.7L1435.2,826.2L1431.1,826.2L1427.0,826.2L1422.9,826.2L1418.8,811.4L1414.7,808.2L1410.6,826.2L1406.5,826.2L1402.4,826.2L1398.3,826.2L1394.2,811.0L1390.1,808.7L1386.0,826.2L1381.9,826.2L1377.9,826.2L1373.8,826.2L1369.7,810.4L1365.6,809.2L1361.5,826.2L1357.4,826.2L1353.3,826.2L1349.2,826.2L1345.1,810.1L1341.0,808.3L1336.9,826.2L1332.8,826.2L1328.7,826.2L1324.6,826.2L1320.5,811.4L1316.4,808.0L1312.3,826.2L1308.2,826.2L1304.1,826.2L1300.0,826.2L1295.9,810.0L1291.9,807.8L1287.8,826.2L1283.7,826.2L1279.6,826.2L1275.5,826.2L1271.4,811.6L1267.3,807.9L1263.2,826.2L1259.1,826.2L1255.0,826.2L1250.9,826.2L1246.8,810.1L1242.7,808.9L1238.6,826.2L1234.5,826.2L1230.4,826.2L1226.3,826.2L1222.2,811.6L1218.1,809.7L1214.0,826.2L1209.9,826.2L1205.9,826.2L1201.8,826.2L1197.7,810.3L1193.6,808.8L1189.5,826.2L1185.4,826.2L1181.3,826.2L1177.2,826.2L1173.1,812.0L1169.0,808.3L1164.9,826.2L1160.8,826.2L1156.7,826.2L1152.6,826.2L1148.5,810.2L1144.4,809.5L1140.3,826.2L1136.2,826.2L1132.1,826.2L1128.0,826.2L1124.0,809.7L1119.9,808.0L1115.8,826.2L1111.7,826.2L1107.6,826.2L1103.5,826.2L1099.4,810.4L1095.3,809.6L1091.2,826.2L1087.1,826.2L1083.0,826.2L1078.9,826.2L1074.8,811.4L1070.7,808.8L1066.6,826.2L1062.5,826.2L1058.4,826.2L1054.3,826.2L1050.2,811.4L1046.1,809.6L1042.0,826.2L1038.0,826.2L1033.9,826.2L1029.8,826.2L1025.7,810.8L1021.6,807.8L1017.5,826.2L1013.4,826.2L1009.3,826.2L1005.2,826.2L1001.1,811.0L997.0,808.7L992.9,826.2L988.8,826.2L984.7,826.2L980.6,826.2L976.5,809.5L972.4,810.0L968.3,826.2L964.2,826.2L960.1,826.2L956.0,826.2L952.0,809.8L947.9,809.6L943.8,826.2L939.7,826.2L935.6,826.2L931.5,826.2L927.4,810.4L923.3,808.2L919.2,826.2L915.1,826.2L911.0,826.2L906.9,826.2L902.8,810.3L898.7,807.9L894.6,826.2L890.5,826.2L886.4,826.2L882.3,826.2L878.2,810.0L874.1,809.9L870.1,826.2L866.0,826.2L861.9,826.2L857.8,826.2L853.7,811.1L849.6,807.9L845.5,826.2L841.4,826.2L837.3,826.2L833.2,826.2L829.1,811.5L825.0,808.3L820.9,826.2L816.8,826.2L812.7,826.2L808.6,826.2L804.5,810.0L800.4,807.8L796.3,826.2L792.2,826.2L788.1,826.2L784.1,826.2L780.0,809.6L775.9,809.9L771.8,826.2L767.7,826.2L763.6,826.2L759.5,826.2L755.4,811.1L751.3,809.4L747.2,826.2L743.1,826.2L739.0,826.2L734.9,826.2L730.8,810.3L726.7,807.6L722.6,826.2L718.5,826.2L714.4,826.2L710.3,826.2L706.2,811.4L702.1,808.0L698.1,826.2L694.0,826.2L689.9,826.2L685.8,826.2L681.7,810.2L677.6,810.0L673.5,826.2L669.4,826.2L665.3,826.2L661.2,826.2L657.1,810.8L653.0,808.5L648.9,826.2L644.8,826.2L640.7,826.2L636.6,826.2L632.5,810.2L628.4,807.9L624.3,826.2L620.2,826.2L616.2,826.2L612.1,826.2L608.0,809.7L603.9,808.0L599.8,826.2L595.7,826.2L591.6,826.2L587.5,826.2L583.4,809.7L579.3,809.7L575.2,826.2L571.1,826.2L567.0,826.2L562.9,826.2L558.8,810.8L554.7,808.3L550.6,826.2L546.5,826.2L542.4,826.2L538.3,826.2L534.2,810.9L530.2,808.6L526.1,826.2L522.0,826.2L517.9,826.2L513.8,826.2L509.7,810.5L505.6,808.6L501.5,826.2L497.4,826.2L493.3,826.2L489.2,826.2L485.1,809.7L481.0,808.3L476.9,826.2L472.8,826.2L468.7,826.2L464.6,826.2L460.5,810.6L456.4,809.9L452.3,826.2L448.2,826.2L444.2,826.2L440.1,826.2L436.0,810.2L431.9,807.8L427.8,826.2L423.7,826.2L419.6,826.2L415.5,826.2L411.4,809.7L407.3,809.2L403.2,826.2L399.1,826.2L395.0,826.2L390.9,826.2L386.8,812.0L382.7,809.6L378.6,826.2L374.5,826.2L370.4,826.2L366.3,826.2L362.3,810.2L358.2,809.6L354.1,826.2L350.0,826.2L345.9,826.2L341.8,826.2L337.7,811.9L333.6,809.8L329.5,826.2L325.4,826.2L321.3,826.2L317.2,826.2L313.1,811.5L309.0,809.5L304.9,826.2L300.8,826.2L296.7,826.2L292.6,826.2L288.5,809.6L284.4,808.9L280.3,826.2L276.3,826.2L272.2,826.2L268.1,826.2L264.0,811.2L259.9,808.1L255.8,826.2L251.7,826.2L247.6,826.2L243.5,826.2L239.4,811.5L235.3,807.8L231.2,826.2L227.1,826.2L223.0,826.2L218.9,826.2L214.8,810.4L210.7,809.8L206.6,826.2L202.5,826.2L198.4,826.2L194.3,826.2L190.3,811.8L186.2,809.5L182.1,826.2L178.0,826.2L173.9,826.2L169.8,826.2L165.7,810.4L161.6,809.9L157.5,826.2L153.4,826.2L149.3,826.2L145.2,826.2L141.1,809.6L137.0,809.1L132.9,826.2L128.8,826.2L124.7,826.2L120.6,826.2L116.5,826.2L112.4,826.2L108.3,826.2L104.3,826.2L100.2,826.2L96.1,826.2L92.0,826.2L87.9,826.2L83.8,826.2L79.7,826.2L75.6,826.2L71.5,826.2L67.4,819.0L63.3,819.0L59.2,826.2Z" fill="#cdcdcd"/>
<path d="M59.2,816.1L63.3,795.1L67.4,795.1L71.5,818.1L75.6,825.3L79.7,825.3L83.8,814.4L87.9,796.4L92.0,787.9L96.1,815.0L100.2,825.6L104.3,825.0L108.3,817.1L112.4,787.9L116.5,792.7L120.6,814.2L124.7,825.0L128.8,823.7L132.9,816.1L137.0,787.9L141.1,794.0L145.2,816.5L149.3,825.4L153.4,824.8L157.5,818.0L161.6,792.7L165.7,792.7L169.8,812.7L173.9,825.7L178.0,825.0L182.1,813.9L186.2,792.4L190.3,795.1L194.3,813.2L198.4,825.3L202.5,825.3L206.6,816.7L210.7,785.5L214.8,795.1L218.9,818.4L223.0,824.6L227.1,825.1L231.2,815.6L235.3,790.9L239.4,794.3L243.5,817.9L247.6,825.1L251.7,825.0L255.8,817.0L259.9,792.7L264.0,792.7L268.1,815.9L272.2,824.5L276.3,823.8L280.3,817.8L284.4,790.8L288.5,791.9L292.6,816.6L296.7,825.6L300.8,825.3L304.9,815.5L309.0,792.7L313.1,791.6L317.2,815.3L321.3,824.9L325.4,823.2L329.5,817.4L333.6,795.1L337.7,785.5L341.8,813.4L345.9,824.4L350.0,825.0L354.1,813.7L358.2,787.9L362.3,789.7L366.3,811.8L370.4,825.4L374.5,823.6L378.6,817.1L382.7,786.8L386.8,796.4L390.9,818.3L395.0,825.4L399.1,824.0L403.2,814.2L407.3,794.0L411.4,789.2L415.5,816.8L419.6,825.1L423.7,825.4L427.8,817.5L431.9,786.8L436.0,794.0L440.1,811.7L444.2,824.8L448.2,823.7L452.3,815.5L456.4,792.7L460.5,789.8L464.6,811.8L468.7,825.7L472.8,823.8L476.9,816.0L481.0,789.2L485.1,789.7L489.2,813.5L493.3,824.4L497.4,823.5L501.5,814.9L505.6,791.9L509.7,789.2L513.8,812.5L517.9,825.1L522.0,823.4L526.1,814.1L530.2,794.0L534.2,784.3L538.3,818.2L542.4,824.8L546.5,822.8L550.6,814.1L554.7,794.0L558.8,790.9L562.9,812.7L567.0,825.6L571.1,823.5L575.2,818.2L579.3,793.4L583.4,793.4L587.5,814.3L591.6,824.4L595.7,824.9L599.8,818.3L603.9,792.9L608.0,792.7L612.1,814.0L616.2,825.1L620.2,823.1L624.3,816.7L628.4,794.8L632.5,789.5L636.6,812.4L640.7,825.2L644.8,824.0L648.9,816.8L653.0,790.9L657.1,790.9L661.2,811.9L665.3,825.3L669.4,825.1L673.5,816.1L677.6,787.9L681.7,794.0L685.8,816.5L689.9,824.5L694.0,822.9L698.1,816.1L702.1,791.9L706.2,791.4L710.3,814.7L714.4,825.3L718.5,823.4L722.6,818.2L726.7,792.2L730.8,791.4L734.9,817.8L739.0,825.6L743.1,823.8L747.2,816.2L751.3,792.7L755.4,792.7L759.5,817.3L763.6,825.0L767.7,825.1L771.8,818.3L775.9,787.9L780.0,795.1L784.1,813.7L788.1,825.0L792.2,823.9L796.3,814.7L800.4,804.8L804.5,804.0L808.6,813.6L812.7,825.5L816.8,824.3L820.9,815.3L825.0,791.4L829.1,792.2L833.2,812.0L837.3,825.0L841.4,823.8L845.5,817.3L849.6,787.9L853.7,796.3L857.8,812.3L861.9,824.3L866.0,822.9L870.1,815.7L874.1,794.0L878.2,787.9L882.3,818.2L886.4,825.1L890.5,824.0L894.6,814.6L898.7,789.5L902.8,792.7L906.9,817.5L911.0,825.2L915.1,823.4L919.2,817.6L923.3,788.5L927.4,791.4L931.5,811.9L935.6,825.0L939.7,823.0L943.8,817.9L947.9,792.7L952.0,791.4L956.0,815.0L960.1,824.5L964.2,824.0L968.3,816.8L972.4,787.9L976.5,792.7L980.6,811.8L984.7,825.0L988.8,824.0L992.9,817.3L997.0,792.7L1001.1,795.1L1005.2,815.1L1009.3,825.1L1013.4,823.4L1017.5,815.6L1021.6,795.1L1025.7,786.8L1029.8,811.9L1033.9,824.4L1038.0,824.8L1042.0,816.0L1046.1,784.3L1050.2,792.7L1054.3,816.5L1058.4,825.4L1062.5,823.9L1066.6,813.8L1070.7,793.2L1074.8,755.4L1078.9,813.8L1083.0,825.3L1087.1,824.6L1091.2,815.3L1095.3,790.3L1099.4,791.4L1103.5,817.4L1107.6,824.9L1111.7,824.4L1115.8,816.5L1119.9,794.0L1124.0,792.7L1128.0,814.2L1132.1,824.9L1136.2,823.2L1140.3,815.4L1144.4,787.9L1148.5,794.0L1152.6,816.5L1156.7,825.3L1160.8,823.0L1164.9,817.3L1169.0,792.7L1173.1,790.3L1177.2,816.9L1181.3,825.6L1185.4,823.3L1189.5,816.3L1193.6,791.4L1197.7,790.9L1201.8,817.3L1205.9,824.7L1209.9,823.1L1214.0,813.6L1218.1,794.0L1222.2,786.8L1226.3,817.4L1230.4,825.6L1234.5,825.3L1238.6,818.1L1242.7,789.5L1246.8,792.7L1250.9,817.3L1255.0,824.5L1259.1,822.8L1263.2,813.8L1267.3,791.4L1271.4,792.7L1275.5,816.4L1279.6,825.0L1283.7,824.1L1287.8,816.2L1291.9,791.4L1295.9,790.9L1300.0,815.5L1304.1,824.6L1308.2,824.4L1312.3,817.4L1316.4,791.6L1320.5,792.2L1324.6,813.7L1328.7,824.5L1332.8,823.8L1336.9,816.4L1341.0,791.6L1345.1,792.2L1349.2,812.2L1353.3,824.6L1357.4,823.4L1361.5,814.4L1365.6,791.6L1369.7,792.2L1373.8,813.2L1377.9,825.1L1381.9,823.6L1386.0,818.0L1390.1,791.6L1394.2,792.2L1398.3,814.3L1402.4,825.4L1406.5,823.0L1410.6,815.1L1414.7,791.6L1418.8,792.2L1422.9,811.5L1427.0,824.8L1431.1,823.6L1435.2,814.6L1439.3,791.6L1443.4,792.2L1447.5,815.9L1451.6,825.6L1455.7,825.0L1459.8,816.5L1463.9,791.6L1467.9,792.2L1472.0,811.8L1476.1,824.9L1480.2,822.8L1484.3,815.2L1488.4,791.6L1492.5,792.2L1496.6,812.1L1500.7,825.5L1504.8,824.3L1508.9,817.5L1513.0,791.6L1517.1,792.2L1521.2,815.0L1525.3,824.9L1529.4,824.6L1533.5,816.9L1537.6,791.6L1541.7,792.2L1545.8,818.7L1549.8,825.4L1553.9,825.4L1558.0,817.6" fill="none" stroke="#a0a0a0" stroke-width="1.1"/>
</g>
<rect x="60" y="825.6" width="1495" height="1" fill="#cfd0d2"/>
<rect x="234.8" y="751" width="1.1" height="112.5" fill="#c4c6c9"/>
<text x="235.3" y="819.8" text-anchor="middle" class="cl">2021-01-10</text>
<rect x="406.8" y="751" width="1.1" height="112.5" fill="#c4c6c9"/>
<text x="407.3" y="819.8" text-anchor="middle" class="cl">2021-01-17</text>
<rect x="578.8" y="751" width="1.1" height="112.5" fill="#c4c6c9"/>
<text x="579.3" y="819.8" text-anchor="middle" class="cl">2021-01-24</text>
<rect x="750.8" y="751" width="1.1" height="112.5" fill="#c4c6c9"/>
<text x="751.3" y="819.8" text-anchor="middle" class="cl">2021-01-31</text>
<rect x="922.8" y="751" width="1.1" height="112.5" fill="#c4c6c9"/>
<text x="923.3" y="819.8" text-anchor="middle" class="cl">2021-02-07</text>
<rect x="1094.8" y="751" width="1.1" height="112.5" fill="#c4c6c9"/>
<text x="1095.3" y="819.8" text-anchor="middle" class="cl">2021-02-14</text>
<rect x="1266.8" y="751" width="1.1" height="112.5" fill="#c4c6c9"/>
<text x="1267.3" y="819.8" text-anchor="middle" class="cl">2021-02-21</text>
<rect x="62.6" y="826" width="1" height="37.5" fill="#c4c6c9"/>
<rect x="386.8" y="826.5" width="4" height="36.5" fill="#6ea7e3"/>
<rect x="800.6" y="826.5" width="3.4" height="36.5" fill="#6ea7e3"/>
<rect x="804" y="826.5" width="4.6" height="36.5" fill="#e0394a"/>
<rect x="1320" y="750.5" width="226" height="112" fill="#fafbfd"/>
<g clip-path="url(#cb)">
<path d="M1316.5,769.2L1320.6,769.9L1324.6,795.6L1328.7,817.0L1332.8,817.8L1336.9,798.8L1341.0,768.5L1345.1,770.2L1349.2,797.5L1353.3,817.0L1357.4,817.8L1361.5,798.8L1365.6,768.6L1369.7,771.0L1373.8,797.5L1377.9,817.0L1382.0,817.8L1386.1,798.8L1390.2,768.9L1394.3,771.6L1398.4,797.5L1402.5,817.0L1406.6,817.8L1410.6,798.8L1414.7,769.4L1418.8,771.5L1422.9,797.5L1427.0,817.0L1431.1,817.8L1435.2,798.8L1439.3,769.4L1443.4,771.1L1447.5,797.5L1451.6,817.0L1455.7,817.8L1459.8,798.8L1463.9,769.2L1468.0,771.3L1472.1,797.5L1476.2,817.0L1480.3,817.8L1484.4,798.8L1488.5,769.2L1492.6,771.5L1496.6,797.5L1500.7,817.0L1504.8,817.8L1508.9,798.8L1513.0,769.7L1517.1,770.8L1521.2,797.5L1525.3,817.0L1529.4,817.8L1533.5,798.8L1537.6,769.9L1541.7,770.8L1545.8,797.5L1549.9,817.0L1549.9,826.2L1545.8,826.2L1541.7,815.3L1537.6,816.5L1533.5,826.2L1529.4,826.2L1525.3,826.2L1521.2,826.2L1517.1,811.7L1513.0,816.5L1508.9,826.2L1504.8,826.2L1500.7,826.2L1496.6,826.2L1492.6,811.7L1488.5,816.5L1484.4,826.2L1480.3,826.2L1476.2,826.2L1472.1,826.2L1468.0,811.7L1463.9,816.5L1459.8,826.2L1455.7,826.2L1451.6,826.2L1447.5,826.2L1443.4,811.7L1439.3,816.5L1435.2,826.2L1431.1,826.2L1427.0,826.2L1422.9,826.2L1418.8,811.7L1414.7,816.5L1410.6,826.2L1406.6,826.2L1402.5,826.2L1398.4,826.2L1394.3,811.7L1390.2,816.5L1386.1,826.2L1382.0,826.2L1377.9,826.2L1373.8,826.2L1369.7,811.7L1365.6,816.5L1361.5,826.2L1357.4,826.2L1353.3,826.2L1349.2,826.2L1345.1,811.7L1341.0,816.5L1336.9,826.2L1332.8,826.2L1328.7,826.2L1324.6,826.2L1320.6,815.7L1316.5,802.9Z" fill="#2e97b5" fill-opacity="0.25"/>
<path d="M1316.5,781.1L1320.6,786.4L1324.6,817.7L1328.7,824.6L1332.8,825.4L1336.9,816.1L1341.0,789.2L1345.1,794.4L1349.2,815.3L1353.3,824.2L1357.4,825.4L1361.5,814.5L1365.6,790.0L1369.7,794.4L1373.8,815.3L1377.9,825.0L1382.0,823.8L1386.1,817.3L1390.2,796.8L1394.3,789.6L1398.4,813.3L1402.5,823.4L1406.6,825.0L1410.6,814.1L1414.7,793.6L1418.8,796.0L1422.9,810.9L1427.0,825.0L1431.1,824.6L1435.2,817.7L1439.3,790.4L1443.4,791.2L1447.5,815.7L1451.6,825.4L1455.7,825.4L1459.8,816.1L1463.9,793.6L1468.0,787.2L1472.1,816.1L1476.2,825.8L1480.3,823.8L1484.4,816.5L1488.5,797.2L1492.6,786.0L1496.6,816.5L1500.7,824.2L1504.8,826.2L1508.9,814.1L1513.0,791.6L1517.1,788.8L1521.2,819.0L1525.3,824.6L1529.4,825.0L1533.5,817.3L1537.6,792.0L1541.7,798.8L1545.8,817.4L1549.9,825.4" fill="none" stroke="#2b9bb6" stroke-width="1.3"/>
<path d="M1373.8,809.1L1377.9,814.4L1382.0,814.8L1386.1,799.5L1390.2,772.4L1394.3,774.0L1398.4,798.7L1402.5,814.4L1406.6,814.8L1410.6,799.5L1414.7,772.4L1418.8,774.0L1422.9,798.7L1427.0,814.4L1431.1,814.8L1435.2,799.5L1439.3,772.4L1443.4,774.0L1447.5,798.7L1451.6,814.4L1455.7,814.8L1459.8,799.5L1463.9,772.4L1468.0,774.0L1472.1,798.7L1476.2,814.4L1480.3,814.8L1484.4,799.5L1488.5,772.4L1492.6,774.0L1496.6,798.7L1500.7,814.4L1504.8,814.8L1508.9,799.5L1513.0,772.4L1517.1,774.0L1521.2,798.7L1525.3,814.4L1529.4,814.8L1533.5,799.5L1537.6,772.4L1541.7,774.0L1545.8,798.7L1549.9,814.4L1549.9,826.2L1545.8,826.2L1541.7,811.7L1537.6,812.5L1533.5,826.2L1529.4,826.2L1525.3,826.2L1521.2,826.2L1517.1,811.7L1513.0,812.5L1508.9,826.2L1504.8,826.2L1500.7,826.2L1496.6,826.2L1492.6,811.7L1488.5,812.5L1484.4,826.2L1480.3,826.2L1476.2,826.2L1472.1,826.2L1468.0,811.7L1463.9,812.5L1459.8,826.2L1455.7,826.2L1451.6,826.2L1447.5,826.2L1443.4,811.7L1439.3,812.5L1435.2,826.2L1431.1,826.2L1427.0,826.2L1422.9,826.2L1418.8,811.7L1414.7,812.5L1410.6,826.2L1406.6,826.2L1402.5,826.2L1398.4,826.2L1394.3,811.7L1390.2,812.5L1386.1,826.2L1382.0,826.2L1377.9,826.2L1373.8,826.2Z" fill="#cc9900" fill-opacity="0.24"/>
<path d="M1373.8,820.9L1377.9,825.3L1382.0,825.5L1386.1,815.9L1390.2,791.5L1394.3,792.3L1398.4,816.4L1402.5,825.3L1406.6,825.5L1410.6,815.9L1414.7,791.5L1418.8,792.3L1422.9,816.4L1427.0,825.3L1431.1,825.5L1435.2,815.9L1439.3,791.5L1443.4,792.3L1447.5,816.4L1451.6,825.3L1455.7,825.5L1459.8,815.9L1463.9,791.5L1468.0,792.3L1472.1,816.4L1476.2,825.3L1480.3,825.5L1484.4,815.9L1488.5,791.5L1492.6,792.3L1496.6,816.4L1500.7,825.3L1504.8,825.5L1508.9,815.9L1513.0,791.5L1517.1,792.3L1521.2,816.4L1525.3,825.3L1529.4,825.5L1533.5,815.9L1537.6,791.5L1541.7,792.3L1545.8,816.4L1549.9,825.3" fill="none" stroke="#c8980c" stroke-width="1.3"/>
</g>
<rect x="1321" y="825.6" width="225" height="1" fill="#e3e4e6"/>
<rect x="1438.8" y="752" width="1.1" height="110" fill="#d9dbde"/>
<text x="1439.3" y="819.8" text-anchor="middle" class="cl">2021-02-28</text>
<rect x="58.6" y="751" width="1.3" height="128" fill="#c5d6ea"/>
<rect x="1554.6" y="751" width="1.3" height="128" fill="#c5d6ea"/>
<path d="M1318.5,764.5 h-8 a4,4 0 0 0 -4,4 v78 a4,4 0 0 0 4,4 h8 z" fill="#c9cfe0" stroke="#8b909c" stroke-width="1"/>
<path d="M1547,764.5 h7 a4,4 0 0 1 4,4 v78 a4,4 0 0 1 -4,4 h-7 z" fill="#c9cfe0" stroke="#8b909c" stroke-width="1"/>
<path d="M1309.3,807.5 l5.8,-4.8 v9.6 z" fill="#4a4f5c"/>
<path d="M1556,807.5 l-5.8,-4.8 v9.6 z" fill="#4a4f5c"/>
<path d="M1319.5,749.6 H59.4 V301.3 H1554 V749.6 H1546 V862.9 H1319.5 Z" fill="none" stroke="#4d5362" stroke-width="2.6" stroke-linejoin="miter"/>
<rect x="131.8" y="866" width="4.8" height="20" rx="2.4" fill="#bfc0c3"/>
<rect x="1373.9" y="866" width="4.8" height="20" rx="2.4" fill="#bfc0c3"/>
<rect x="1540.6" y="866" width="4.8" height="20" rx="2.4" fill="#bfc0c3"/>
</svg>
</body>
</html>
